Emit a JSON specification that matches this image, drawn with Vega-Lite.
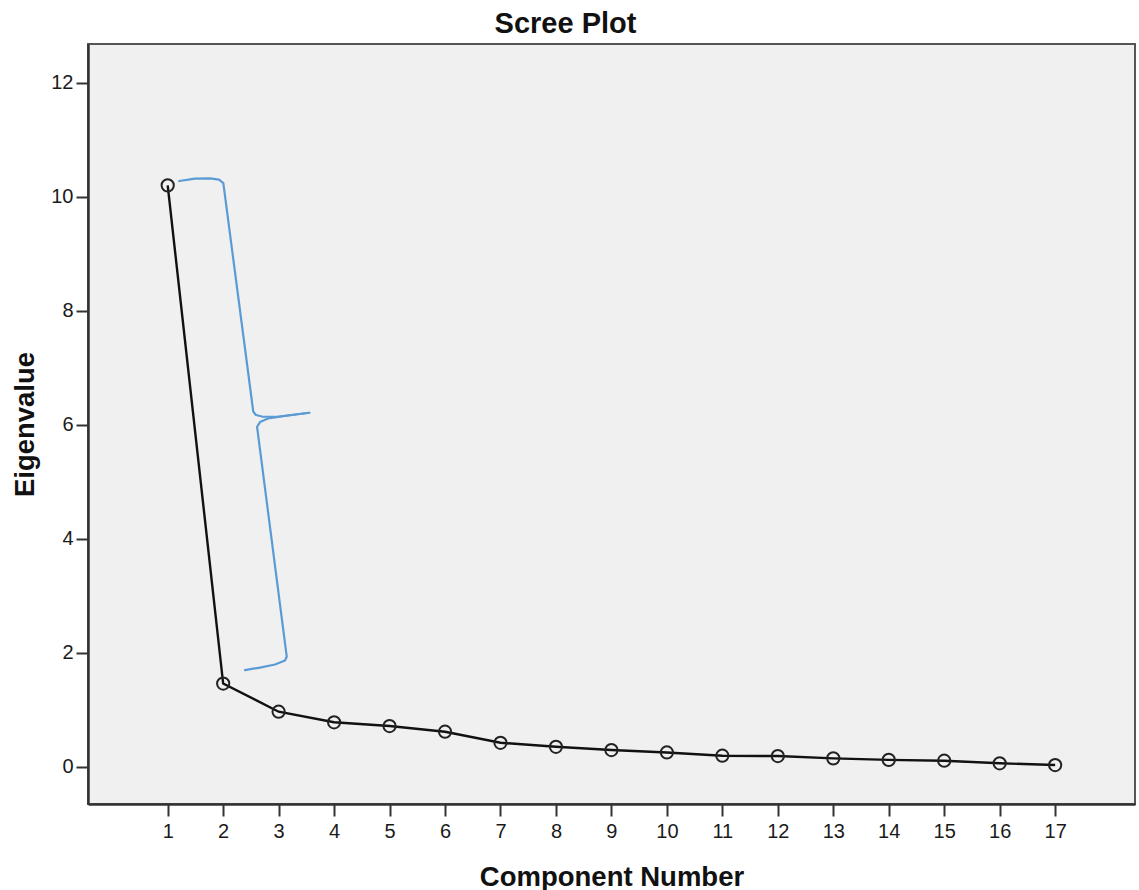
{
  "$schema": "https://vega.github.io/schema/vega-lite/v6.json",
  "autosize": "none",
  "width": 1047,
  "height": 760,
  "padding": {"left": 88, "top": 44, "right": 4, "bottom": 86},
  "background": "white",
  "title": {
    "text": "Scree Plot",
    "font": "Liberation Sans",
    "fontSize": 29,
    "fontWeight": "bold",
    "color": "#111",
    "anchor": "middle",
    "baseline": "alphabetic",
    "offset": 12,
    "dx": -46,
    "dy": 30
  },
  "config": {
    "view": {"fill": "#f0f0f0", "stroke": "#555", "strokeWidth": 2},
    "axis": {
      "labelFont": "Liberation Sans",
      "labelFontSize": 20,
      "labelColor": "#1a1a1a",
      "titleFont": "Liberation Sans",
      "titleFontSize": 27.5,
      "titleFontWeight": "bold",
      "titleColor": "#111",
      "domainColor": "#333",
      "domainWidth": 2.5,
      "tickColor": "#333",
      "tickWidth": 2,
      "tickSize": 12,
      "grid": false
    }
  },
  "datasets": {
    "scree": [
      {"component": 1, "eigenvalue": 10.2},
      {"component": 2, "eigenvalue": 1.46},
      {"component": 3, "eigenvalue": 0.965},
      {"component": 4, "eigenvalue": 0.78},
      {"component": 5, "eigenvalue": 0.714},
      {"component": 6, "eigenvalue": 0.614},
      {"component": 7, "eigenvalue": 0.42},
      {"component": 8, "eigenvalue": 0.35},
      {"component": 9, "eigenvalue": 0.293},
      {"component": 10, "eigenvalue": 0.25},
      {"component": 11, "eigenvalue": 0.193},
      {"component": 12, "eigenvalue": 0.188},
      {"component": 13, "eigenvalue": 0.147},
      {"component": 14, "eigenvalue": 0.12},
      {"component": 15, "eigenvalue": 0.105},
      {"component": 16, "eigenvalue": 0.06},
      {"component": 17, "eigenvalue": 0.03}
    ],
    "brace": [
      {"seg": "upper", "i": 1, "x": 1.209, "y": 10.276},
      {"seg": "upper", "i": 2, "x": 1.492, "y": 10.319},
      {"seg": "upper", "i": 3, "x": 1.763, "y": 10.323},
      {"seg": "upper", "i": 4, "x": 1.925, "y": 10.302},
      {"seg": "upper", "i": 5, "x": 2.003, "y": 10.24},
      {"seg": "upper", "i": 6, "x": 2.543, "y": 6.228},
      {"seg": "upper", "i": 7, "x": 2.592, "y": 6.17},
      {"seg": "upper", "i": 8, "x": 2.70, "y": 6.144},
      {"seg": "upper", "i": 9, "x": 2.965, "y": 6.14},
      {"seg": "upper", "i": 10, "x": 3.553, "y": 6.21},
      {"seg": "lower", "i": 1, "x": 3.553, "y": 6.21},
      {"seg": "lower", "i": 2, "x": 3.115, "y": 6.153},
      {"seg": "lower", "i": 3, "x": 2.808, "y": 6.109},
      {"seg": "lower", "i": 4, "x": 2.664, "y": 6.047},
      {"seg": "lower", "i": 5, "x": 2.61, "y": 5.96},
      {"seg": "lower", "i": 6, "x": 2.619, "y": 5.907},
      {"seg": "lower", "i": 7, "x": 3.146, "y": 1.93},
      {"seg": "lower", "i": 8, "x": 3.115, "y": 1.863},
      {"seg": "lower", "i": 9, "x": 2.935, "y": 1.793},
      {"seg": "lower", "i": 10, "x": 2.664, "y": 1.74},
      {"seg": "lower", "i": 11, "x": 2.394, "y": 1.696}
    ]
  },
  "layer": [
    {
      "data": {"name": "brace"},
      "mark": {"type": "line", "color": "#5b9bd5", "strokeWidth": 2.2, "strokeCap": "round", "strokeJoin": "round", "clip": true},
      "encoding": {
        "x": {"field": "x", "type": "quantitative"},
        "y": {"field": "y", "type": "quantitative"},
        "detail": {"field": "seg"},
        "order": {"field": "i", "type": "quantitative"}
      }
    },
    {
      "data": {"name": "scree"},
      "mark": {"type": "line", "color": "#111", "strokeWidth": 2.4},
      "encoding": {
        "x": {
          "field": "component", "type": "quantitative",
          "scale": {"domain": [-0.437, 18.44], "nice": false, "zero": false},
          "axis": {
            "title": "Component Number",
            "values": [1,2,3,4,5,6,7,8,9,10,11,12,13,14,15,16,17],
            "format": "d",
            "labelPadding": 5,
            "titleBaseline": "alphabetic",
            "titleY": 81,
            "labelFlush": false
          }
        },
        "y": {
          "field": "eigenvalue", "type": "quantitative",
          "scale": {"domain": [-0.654, 12.68], "nice": false, "zero": false},
          "axis": {
            "title": "Eigenvalue",
            "values": [0,2,4,6,8,10,12],
            "format": "d",
            "labelPadding": 3,
            "titleBaseline": "alphabetic",
            "titleX": -55,
            "titleY": 380,
            "titleAngle": -90,
            "titleAlign": "center",
            "labelFlush": false
          }
        }
      }
    },
    {
      "data": {"name": "scree"},
      "mark": {"type": "point", "filled": false, "stroke": "#222", "strokeWidth": 2, "size": 150, "opacity": 1},
      "encoding": {
        "x": {"field": "component", "type": "quantitative"},
        "y": {"field": "eigenvalue", "type": "quantitative"}
      }
    }
  ]
}
